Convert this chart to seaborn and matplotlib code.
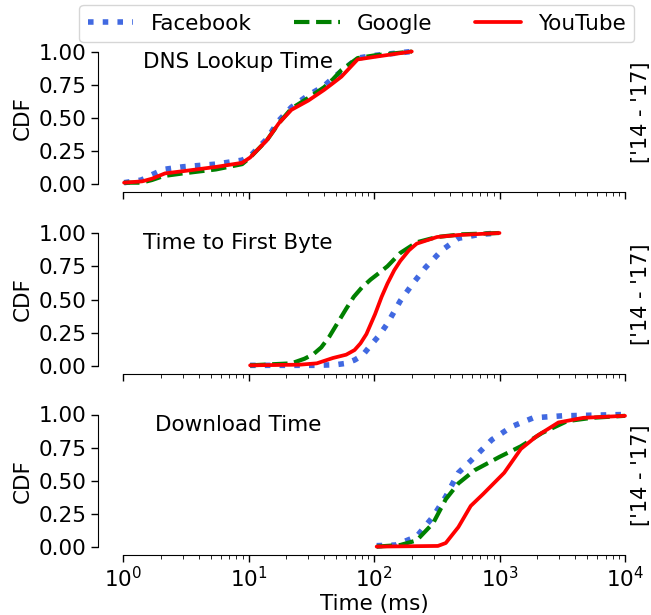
import numpy as np
import matplotlib
matplotlib.use('Agg')
import matplotlib.pyplot as plt
import seaborn as sns

# CDF curves (time in ms, cumulative fraction)
dns_fb_x = [1.02, 1.4, 1.7, 2.1, 3.0, 5.5, 8.9, 10.3, 14, 17.5, 22, 30, 40, 47, 55, 74, 100, 200]
dns_fb_y = [0.01, 0.03, 0.07, 0.11, 0.13, 0.15, 0.18, 0.21, 0.34, 0.48, 0.58, 0.67, 0.74, 0.80, 0.85, 0.95, 0.97, 1.0]
dns_gg_x = [1.02, 1.4, 1.7, 2.1, 3.0, 5.5, 8.9, 10.3, 14, 17.5, 22, 30, 40, 47, 55, 74, 100, 200]
dns_gg_y = [0.01, 0.01, 0.03, 0.06, 0.08, 0.11, 0.15, 0.20, 0.33, 0.46, 0.57, 0.65, 0.73, 0.79, 0.86, 0.95, 0.97, 1.0]
dns_yt_x = [1.02, 1.42, 1.7, 2.16, 3.2, 5.6, 8.9, 10.3, 14, 17.5, 22, 30, 40, 47, 55, 74, 102, 200]
dns_yt_y = [0.01, 0.02, 0.04, 0.08, 0.10, 0.13, 0.16, 0.20, 0.33, 0.46, 0.56, 0.63, 0.71, 0.76, 0.81, 0.94, 0.96, 1.0]

ttfb_fb_x = [10.3, 35, 50, 60, 70, 81, 94, 110, 128, 162, 204, 257, 347, 470, 700, 1000]
ttfb_fb_y = [0.005, 0.005, 0.01, 0.02, 0.045, 0.08, 0.155, 0.23, 0.32, 0.49, 0.62, 0.74, 0.87, 0.96, 0.99, 1.0]
ttfb_gg_x = [10.3, 22, 28, 33, 38, 44, 51, 60, 69, 80, 94, 110, 128, 162, 219, 318, 500, 1000]
ttfb_gg_y = [0.005, 0.02, 0.055, 0.09, 0.14, 0.22, 0.32, 0.43, 0.52, 0.59, 0.65, 0.70, 0.75, 0.85, 0.93, 0.97, 0.99, 1.0]
ttfb_yt_x = [10.3, 25.7, 35, 47, 60, 70, 78, 87, 102, 115, 128, 145, 162, 190, 219, 318, 470, 1000]
ttfb_yt_y = [0.005, 0.01, 0.02, 0.06, 0.085, 0.12, 0.17, 0.24, 0.39, 0.52, 0.62, 0.72, 0.79, 0.87, 0.92, 0.97, 0.985, 1.0]

dl_fb_x = [105, 149, 219, 296, 373, 470, 635, 870, 1260, 1860, 3170, 10000]
dl_fb_y = [0.01, 0.015, 0.08, 0.23, 0.38, 0.56, 0.68, 0.81, 0.91, 0.975, 0.99, 1.0]
dl_gg_x = [105, 162, 219, 296, 373, 470, 635, 1000, 1480, 2180, 3460, 5460, 10000]
dl_gg_y = [0.003, 0.015, 0.05, 0.18, 0.36, 0.48, 0.58, 0.68, 0.76, 0.86, 0.95, 0.975, 0.99]
dl_yt_x = [105, 323, 373, 470, 590, 741, 1090, 1480, 2000, 2950, 4660, 10000]
dl_yt_y = [0.003, 0.008, 0.03, 0.15, 0.31, 0.40, 0.56, 0.74, 0.84, 0.94, 0.975, 0.99]

panel_titles = ['DNS Lookup Time', 'Time to First Byte', 'Download Time']
services = ['Facebook', 'Google', 'YouTube']
period_label = "['14 - '17]"

panels = [
    [(dns_fb_x, dns_fb_y), (dns_gg_x, dns_gg_y), (dns_yt_x, dns_yt_y)],
    [(ttfb_fb_x, ttfb_fb_y), (ttfb_gg_x, ttfb_gg_y), (ttfb_yt_x, ttfb_yt_y)],
    [(dl_fb_x, dl_fb_y), (dl_gg_x, dl_gg_y), (dl_yt_x, dl_yt_y)],
]
styles = [
    dict(color='royalblue', linestyle=':', linewidth=4),
    dict(color='green', linestyle='--', linewidth=3),
    dict(color='red', linestyle='-', linewidth=2.7),
]
title_pos = [(0.04, 0.917), (0.04, 0.925), (0.064, 0.92)]

sns.set_style('ticks')
plt.rcParams['font.family'] = ['DejaVu Sans']
for key in ['text.color', 'axes.labelcolor', 'xtick.color', 'ytick.color', 'axes.edgecolor']:
    plt.rcParams[key] = 'black'

FS = 15.5
W, H = 651, 615
fig = plt.figure(figsize=(W / 100, H / 100), dpi=100)

# pixel boxes (top of y=1, bottom of y=0) for each panel
rows = [(51.5, 184), (233, 366), (414.5, 547)]
x_left, x_right = 123, 625

axes = []
for i, (top, bottom) in enumerate(rows):
    ax = fig.add_axes([x_left / W, 1 - bottom / H, (x_right - x_left) / W, (bottom - top) / H])
    for (xs, ys), name, st in zip(panels[i], services, styles):
        sns.lineplot(x=xs, y=ys, ax=ax, label=name, estimator=None, sort=False,
                     clip_on=False, **st)
    ax.set_xscale('log')
    ax.set_xlim(1, 1e4)
    ax.set_ylim(0, 1)
    ax.set_yticks([0, 0.25, 0.5, 0.75, 1.0])
    ax.set_yticklabels(['0.00', '0.25', '0.50', '0.75', '1.00'])
    ax.set_ylabel('CDF', fontsize=FS)
    ax.tick_params(axis='both', labelsize=FS, length=5, width=1)
    ax.tick_params(axis='x', which='minor', length=3)
    sns.despine(ax=ax)
    ax.spines['left'].set_position(('outward', 18))
    ax.spines['bottom'].set_position(('outward', 5.5))
    ax.text(title_pos[i][0], title_pos[i][1], panel_titles[i], transform=ax.transAxes,
            fontsize=FS, ha='left', va='center')
    ax.text(1.032, 0.54, period_label, transform=ax.transAxes, rotation=90,
            fontsize=15, ha='center', va='center')
    if i < 2:
        ax.tick_params(axis='x', which='both', labelbottom=False)
    handles, labels = ax.get_legend_handles_labels()
    ax.get_legend().remove()
    axes.append(ax)

axes[-1].set_xlabel('Time (ms)', fontsize=FS, labelpad=1.5)

fig.legend(handles, labels, loc='upper center', bbox_to_anchor=(0.548, 0.992),
           borderaxespad=0, ncol=3, fontsize=FS, handlelength=2.1, columnspacing=2.0,
           handletextpad=0.8, frameon=True)

plt.savefig('out.png', dpi=100)
